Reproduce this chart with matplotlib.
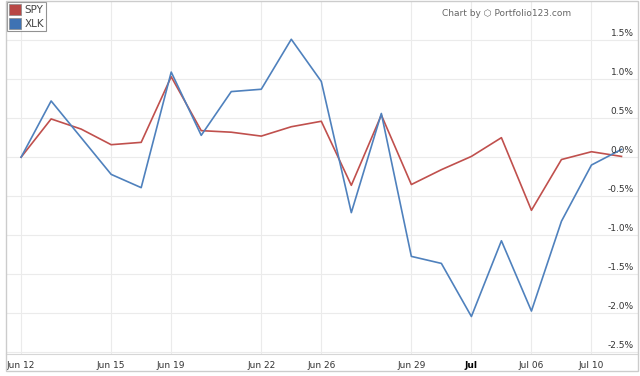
import numpy as np
import matplotlib
matplotlib.use("Agg")
import matplotlib.pyplot as plt
from matplotlib.patches import Patch, Rectangle
from matplotlib.transforms import blended_transform_factory

# trading days, Jun 12 .. Jul 11
dates = ['Jun 12', 'Jun 13', 'Jun 14', 'Jun 15', 'Jun 16', 'Jun 19', 'Jun 20',
         'Jun 21', 'Jun 22', 'Jun 23', 'Jun 26', 'Jun 27', 'Jun 28', 'Jun 29',
         'Jun 30', 'Jul 03', 'Jul 05', 'Jul 06', 'Jul 07', 'Jul 10', 'Jul 11']

# cumulative % change
spy = [0.00, 0.49, 0.36, 0.16, 0.19, 1.03, 0.34, 0.32, 0.27, 0.39, 0.46,
       -0.36, 0.54, -0.35, -0.16, 0.01, 0.25, -0.68, -0.03, 0.07, 0.01]
xlk = [0.00, 0.72, 0.25, -0.22, -0.39, 1.09, 0.28, 0.84, 0.87, 1.51, 0.97,
       -0.71, 0.56, -1.27, -1.36, -2.04, -1.07, -1.97, -0.82, -0.10, 0.10]

tick_idx = [0, 3, 5, 8, 10, 13, 15, 17, 19]
tick_labels = ['Jun 12', 'Jun 15', 'Jun 19', 'Jun 22', 'Jun 26', 'Jun 29',
               'Jul', 'Jul 06', 'Jul 10']
y_ticks = [-2.5, -2.0, -1.5, -1.0, -0.5, 0.0, 0.5, 1.0, 1.5]

red = '#c0504d'
blue = '#4f81bd'

W, H = 640, 376
fig = plt.figure(figsize=(W / 100, H / 100), dpi=100)

# axes box in pixels (from top-left)
x0, x1, y0, y1 = 5.5, 638, 1, 354
ax = fig.add_axes([x0 / W, 1 - y1 / H, (x1 - x0) / W, (y1 - y0) / H])

x = np.arange(len(dates))
ax.plot(x, spy, color=red, lw=1.2, zorder=3)
ax.plot(x, xlk, color=blue, lw=1.2, zorder=3)

ax.set_xlim(-0.52, 20.55)
ax.set_ylim(-2.52, 2.0)

ax.set_yticks(y_ticks)
ax.set_yticklabels([])
ax.set_xticks(tick_idx)
ax.set_xticklabels(tick_labels, fontsize=6.5, color='#333333')
ax.tick_params(axis='both', length=0, pad=5)
for lab in ax.get_xticklabels():
    if lab.get_text() == 'Jul':
        lab.set_fontweight('bold')
        lab.set_color('black')

ax.grid(True, color='#ebebeb', lw=0.8)
ax.set_axisbelow(True)
for s in ['top', 'right', 'left']:
    ax.spines[s].set_visible(False)
ax.spines['bottom'].set_color('#d6d6d6')

# y labels inside, at right, just above grid lines
tr = blended_transform_factory(ax.transAxes, ax.transData)
for v in y_ticks:
    ax.text(0.993, v + 0.03, '%.1f%%' % v, transform=tr, ha='right',
            va='bottom', fontsize=6.5, color='#333333')

# outer frame
fig.patches.append(Rectangle((x0 / W, 1 - 371 / H), (x1 - x0) / W, (371 - y0) / H,
                             transform=fig.transFigure, fill=False,
                             edgecolor='#cccccc', lw=1))

# legend
handles = [Patch(facecolor='#b84745', edgecolor='#888888', lw=0.5, label='SPY'),
           Patch(facecolor='#3e72b3', edgecolor='#888888', lw=0.5, label='XLK')]
leg = ax.legend(handles=handles, loc='upper left', bbox_to_anchor=(0.0, 1.0),
                fontsize=7.5, frameon=True, fancybox=False, handlelength=1.2,
                handleheight=1.2, handletextpad=0.3, borderpad=0.2,
                labelspacing=0.3, borderaxespad=0.1, labelcolor='#444444')
leg.get_frame().set_edgecolor('#777777')
leg.get_frame().set_linewidth(0.8)

fig.text(507 / W, 1 - 13 / H, 'Chart by \u2b21 Portfolio123.com', ha='center',
         va='center', fontsize=6.5, color='#666666')

fig.savefig('out.png', dpi=100)
